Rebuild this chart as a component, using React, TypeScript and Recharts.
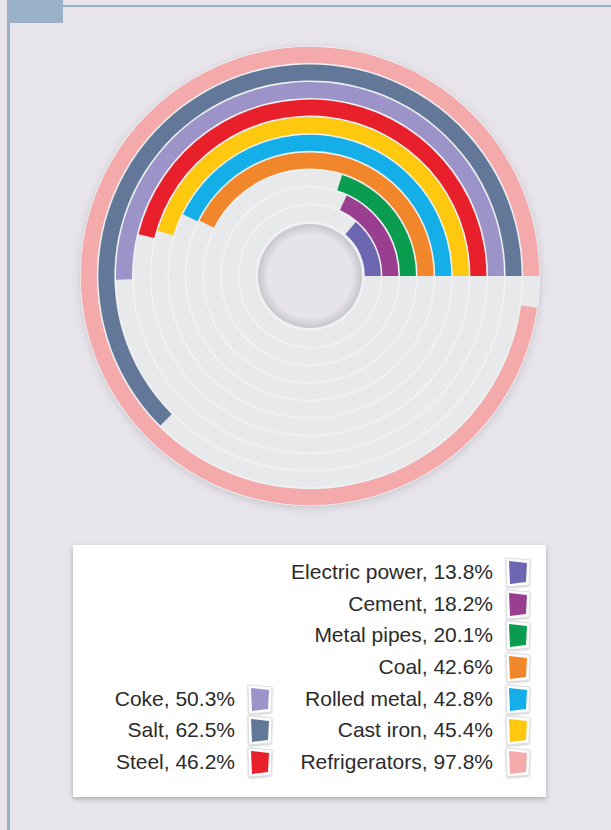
import { RadialBarChart, RadialBar, PolarAngleAxis, PolarRadiusAxis, Cell } from "recharts";

const categories = ["Electric power", "Cement", "Metal pipes", "Coal", "Rolled metal", "Cast iron", "Steel", "Coke", "Salt", "Refrigerators"];
const shares = [13.8, 18.2, 20.1, 42.6, 42.8, 45.4, 46.2, 50.3, 62.5, 97.8];
const colors = ["#6d67b1", "#9a3f8f", "#0b9d4f", "#f1862b", "#14aee8", "#fec80e", "#e7202b", "#9c93c9", "#637899", "#f4a9ab"];
// legend columns (indexes into categories)
const leftColumn = [7, 8, 6];
const rightColumn = [0, 1, 2, 3, 4, 5, 9];

const rows = categories.map((name, i) => ({ name, value: shares[i] }));

const CX = 310;
const CY = 276;
const INNER = 54;
const OUTER = 230;

const font = "'Liberation Sans', Arial, sans-serif";

function Swatch({ color }: { color: string }) {
  return (
    <svg width={26} height={30} style={{ display: "block", overflow: "visible" }}>
      <polygon points="1,1 25,3 24,28 2,30" fill="#ffffff" stroke="#dedfe4" strokeWidth={1} style={{ filter: "drop-shadow(0 1px 1px rgba(0,0,0,0.2))" }} />
      <polygon points="4,4 22,6 21,25 5,27" fill={color} />
    </svg>
  );
}

function LegendRow({ i }: { i: number }) {
  return (
    <div style={{ display: "flex", alignItems: "center", justifyContent: "flex-end", height: 31.7 }}>
      <span style={{ fontFamily: font, fontSize: 21, color: "#2b2b2b", marginRight: 12, whiteSpace: "nowrap" }}>
        {categories[i]}, {shares[i]}%
      </span>
      <Swatch color={colors[i]} />
    </div>
  );
}

export default function App() {
  return (
    <div style={{ position: "fixed", left: 0, top: 0, width: 611, height: 830, background: "#e8e4eb", overflow: "hidden" }}>
      {/* frame */}
      <div style={{ position: "absolute", left: 7, top: 0, width: 56, height: 23, background: "#9ab0c7" }} />
      <div style={{ position: "absolute", left: 63, top: 5, width: 548, height: 2, background: "#9ab0c7" }} />
      <div style={{ position: "absolute", left: 7, top: 0, width: 3, height: 830, background: "#9ab0c7" }} />

      {/* disc behind the tracks */}
      <svg width={611} height={540} style={{ position: "absolute", left: 0, top: 0 }}>
        <defs>
          <filter id="sh" x="-20%" y="-20%" width="140%" height="140%">
            <feDropShadow dx="0" dy="2" stdDeviation="4" floodColor="#9aa0a8" floodOpacity="0.45" />
          </filter>
        </defs>
        <circle cx={CX} cy={CY} r={OUTER} fill="#f0f1f2" filter="url(#sh)" />
      </svg>

      <div style={{ position: "absolute", left: 0, top: 0 }}>
        <RadialBarChart
          width={611}
          height={540}
          cx={CX}
          cy={CY}
          innerRadius={INNER}
          outerRadius={OUTER}
          startAngle={0}
          endAngle={360}
          data={rows}
          barCategoryGap={0.8}
          margin={{ top: 0, right: 0, bottom: 0, left: 0 }}
        >
          <PolarAngleAxis type="number" domain={[0, 100]} tick={false} axisLine={false} />
          <PolarRadiusAxis type="category" dataKey="name" tick={false} axisLine={false} />
          <RadialBar dataKey="value" background={{ fill: "#e7e9eb" }} isAnimationActive={false}>
            {rows.map((r, i) => (
              <Cell key={r.name} fill={colors[i]} />
            ))}
          </RadialBar>
        </RadialBarChart>
      </div>

      {/* hole */}
      <svg width={611} height={540} style={{ position: "absolute", left: 0, top: 0, pointerEvents: "none" }}>
        <defs>
          <radialGradient id="hole" cx="50%" cy="50%" r="50%">
            <stop offset="80%" stopColor="#e6e3ea" />
            <stop offset="100%" stopColor="#c8c6cc" />
          </radialGradient>
        </defs>
        <circle cx={CX} cy={CY} r={52} fill="url(#hole)" />
      </svg>

      {/* legend */}
      <div
        style={{
          position: "absolute",
          left: 73,
          top: 545,
          width: 473,
          height: 252,
          background: "#ffffff",
          boxShadow: "0 2px 5px rgba(0,0,0,0.25)",
        }}
      >
        <div style={{ position: "absolute", right: 15, top: 11 }}>
          {rightColumn.map((i) => (
            <LegendRow key={i} i={i} />
          ))}
        </div>
        <div style={{ position: "absolute", right: 273, top: 11 + 31.7 * 4 }}>
          {leftColumn.map((i) => (
            <LegendRow key={i} i={i} />
          ))}
        </div>
      </div>
    </div>
  );
}
